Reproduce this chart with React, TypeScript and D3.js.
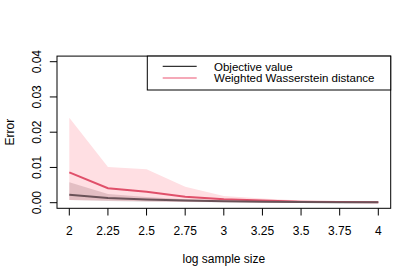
import React from "react";
import * as d3 from "d3";

const logSizes = [2, 2.25, 2.5, 2.75, 3, 3.25, 3.5, 3.75, 4];
const wassMean = [0.0086, 0.0041, 0.0031, 0.0017, 0.001, 0.0006, 0.0003, 0.0002, 0.0001];
const wassUpper = [0.0241, 0.0101, 0.0095, 0.0045, 0.0019, 0.0012, 0.0006, 0.0003, 0.0002];
const wassLower = [0.0008, 0.0006, 0.0004, 0.0003, 0.0002, 0.0001, 0.0001, 0.0, 0.0];
const objMean = [0.00227, 0.0013, 0.0009, 0.0006, 0.0004, 0.0003, 0.0002, 0.0001, 0.0001];
const objUpper = [0.0058, 0.0025, 0.0016, 0.001, 0.0007, 0.0005, 0.0003, 0.0002, 0.0001];
const objLower = [0.0008, 0.0005, 0.0003, 0.0002, 0.0001, 0.0001, 0.0, 0.0, 0.0];
const xTicks = [2, 2.25, 2.5, 2.75, 3, 3.25, 3.5, 3.75, 4];
const xTickLabels = ["2", "2.25", "2.5", "2.75", "3", "3.25", "3.5", "3.75", "4"];
const yTicks = [0, 0.01, 0.02, 0.03, 0.04];
const yTickLabels = ["0.00", "0.01", "0.02", "0.03", "0.04"];
const legendLabels = ["Objective value", "Weighted Wasserstein distance"];

export default function App() {
  const W = 420, H = 280;
  const x = d3.scaleLinear().domain([2, 4]).range([69.3, 378.3]);
  const y = d3.scaleLinear().domain([0, 0.04]).range([202.7, 61.7]);
  const left = 57, right = 390.7, top = 56.1, bottom = 208.3;
  const font = "'Liberation Sans', Arial, Helvetica, sans-serif";

  const area = (lo: number[], hi: number[]) =>
    d3.area<number>()
      .x((_, i) => x(logSizes[i]))
      .y0((_, i) => y(lo[i]))
      .y1((_, i) => y(hi[i]))(logSizes) || "";
  const line = (v: number[]) =>
    d3.line<number>()
      .x((_, i) => x(logSizes[i]))
      .y((d) => y(d))(v) || "";

  return (
    <svg width={W} height={H} style={{ position: "absolute", left: 0, top: 0, background: "#fff" }}
      fontFamily={font}>
      <path d={area(wassLower, wassUpper)} fill="#FFDFE3" />
      <path d={area(objLower, objUpper)} fill="rgba(90,30,40,0.17)" />
      <path d={line(wassMean)} fill="none" stroke="#E0506A" strokeWidth={2} />
      <path d={line(objMean)} fill="none" stroke="#6a5258" strokeWidth={2} />
      <rect x={left} y={top} width={right - left} height={bottom - top} fill="none" stroke="#000" strokeWidth={1} />
      {xTicks.map((t, i) => (
        <g key={"x" + i}>
          <line x1={x(t)} x2={x(t)} y1={bottom} y2={bottom + 7.2} stroke="#000" />
          <text x={x(t)} y={235} textAnchor="middle" fontSize={12}>{xTickLabels[i]}</text>
        </g>
      ))}
      {yTicks.map((t, i) => (
        <g key={"y" + i}>
          <line x1={left - 7.2} x2={left} y1={y(t)} y2={y(t)} stroke="#000" />
          <text transform={`translate(41,${y(t)}) rotate(-90)`} textAnchor="middle" fontSize={12}>{yTickLabels[i]}</text>
        </g>
      ))}
      <text x={(left + right) / 2} y={263} textAnchor="middle" fontSize={12}>log sample size</text>
      <text transform={`translate(13.5,${(top + bottom) / 2}) rotate(-90)`} textAnchor="middle" fontSize={12}>Error</text>
      <rect x={147.3} y={top} width={right - 147.3} height={90 - top} fill="#fff" stroke="#000" strokeWidth={1} />
      <line x1={162.7} x2={196.7} y1={66.3} y2={66.3} stroke="#000" strokeWidth={1} />
      <line x1={162.7} x2={196.7} y1={78} y2={78} stroke="#F5A9B8" strokeWidth={2} />
      <text x={214} y={70.5} fontSize={11.5}>{legendLabels[0]}</text>
      <text x={214} y={82} fontSize={11.5}>{legendLabels[1]}</text>
    </svg>
  );
}
